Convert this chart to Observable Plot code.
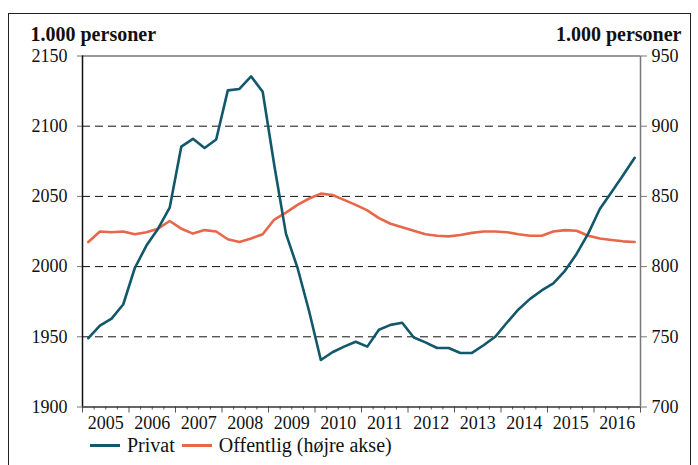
<!DOCTYPE html>
<html><head><meta charset="utf-8">
<script src="https://cdn.jsdelivr.net/npm/d3@7"></script>
<script src="https://cdn.jsdelivr.net/npm/@observablehq/plot@0.6"></script>
<style>
body{margin:0;background:#fff;font-family:"Liberation Serif","DejaVu Serif",serif;}
#wrap{position:relative;width:698px;height:465px;overflow:hidden;background:#fff}
#frame{position:absolute;left:8px;top:13px;width:683px;height:480px;border:1.5px solid #222;box-sizing:border-box}
#chart{position:absolute;left:0;top:0}
#legend{position:absolute;left:90px;top:434px;font-size:20px;display:flex;align-items:center;color:#111;white-space:nowrap;font-family:"Liberation Serif",serif}
.sw{display:inline-block;width:30px;height:3px;margin-right:7px}
.item{display:flex;align-items:center;margin-right:7px}
</style></head>
<body><div id="wrap"><div id="frame"></div><div id="chart"></div><div id="legend"></div></div>
<script>
const years = [2005,2006,2007,2008,2009,2010,2011,2012,2013,2014,2015,2016];
const quartersPerYear = 4;
const privat = [
1949, 1958, 1963, 1973, 1999, 2015, 2027, 2042,
2085.5, 2091, 2084.5, 2090.5, 2125.5, 2126.5, 2135.5, 2124.5,
2072, 2023.5, 1999, 1968, 1933.5, 1939, 1943, 1946.5,
1943, 1955, 1958.5, 1960, 1949.5, 1946, 1942, 1942,
1938.5, 1938.5, 1944, 1950, 1960, 1969.5, 1977, 1983,
1988, 1997, 2009, 2023.5, 2041, 2053, 2065, 2077.5];
const offentlig = [
817.5, 825, 824.5, 825, 823, 824.5, 827, 832.5,
827, 823.5, 826, 825, 819.5, 817.5, 820, 823,
833.5, 838.5, 844, 848.5, 852, 851, 847.5, 844,
840, 834.5, 830.5, 828, 825.5, 823, 822, 821.5,
822.5, 824, 825, 825, 824.5, 823, 822, 822,
825, 826, 825.5, 822, 820, 819, 818, 817.5];
const seriesNames = ["Privat", "Offentlig (højre akse)"];
const seriesColors = ["#12586b", "#e8674a"];
const leftTicks = [1900, 1950, 2000, 2050, 2100, 2150];
const rightTicks = [700, 750, 800, 850, 900, 950];
const unitLabel = "1.000 personer";

const offset = leftTicks[0] - rightTicks[0];
const x0 = years[0], x1 = years[years.length - 1] + 1;
const rows = privat.map((v, i) => ({
  t: x0 + (i + 0.5) / quartersPerYear,
  privat: v,
  offentlig: offentlig[i]
}));
const boundaries = [...years, x1];
const minor = [];
years.forEach(y => { for (let q = 1; q < quartersPerYear; q++) minor.push(y + q / quartersPerYear); });
const mids = years.map(y => y + 0.5);
const font = "'Liberation Serif', serif";

const chart = Plot.plot({
  width: 698,
  height: 440,
  marginLeft: 82,
  marginRight: 58,
  marginTop: 55.5,
  marginBottom: 33.5,
  style: {fontFamily: font, fontSize: "18px", color: "#111", background: "transparent"},
  x: {domain: [x0, x1], axis: null},
  y: {domain: [leftTicks[0], leftTicks[leftTicks.length - 1]], axis: null},
  marks: [
    Plot.ruleY(leftTicks.slice(1, -1), {stroke: "#111", strokeDasharray: "8,5", strokeWidth: 1}),
    Plot.ruleY([leftTicks[leftTicks.length - 1]], {stroke: "#777", strokeWidth: 1.5}),
    Plot.ruleX([x1], {stroke: "#777", strokeWidth: 1.5}),
    Plot.axisY(leftTicks, {anchor: "left", tickSize: 5, tickPadding: 10, stroke: "#777", fill: "#111", tickFormat: d => String(d), fontFamily: font, label: null}),
    Plot.axisY(rightTicks.map(v => v + offset), {anchor: "right", tickSize: 6, tickPadding: 5, stroke: "#777", fill: "#111", tickFormat: d => String(d - offset), fontFamily: font, label: null}),
    Plot.axisX(boundaries, {tickSize: 6, tickFormat: () => "", stroke: "#555", label: null}),
    Plot.axisX(minor, {tickSize: 3, tickFormat: () => "", stroke: "#555", label: null}),
    Plot.axisX(mids, {tickSize: 0, tickPadding: 9, tickFormat: d => String(Math.floor(d)), fill: "#111", fontFamily: font, label: null}),
    Plot.ruleX([x0], {stroke: "#111", strokeWidth: 1.5}),
    Plot.ruleY([leftTicks[0]], {stroke: "#333", strokeWidth: 1.5}),
    Plot.line(rows, {x: "t", y: d => d.offentlig + offset, stroke: seriesColors[1], strokeWidth: 2.6}),
    Plot.line(rows, {x: "t", y: "privat", stroke: seriesColors[0], strokeWidth: 2.6}),
    Plot.text([unitLabel], {frameAnchor: "top-left", textAnchor: "start", lineAnchor: "bottom", dx: -52, dy: -15, fontWeight: "bold", fontSize: 20, fill: "#111", fontFamily: font}),
    Plot.text([unitLabel], {frameAnchor: "top-right", textAnchor: "end", lineAnchor: "bottom", dx: 41, dy: -15, fontWeight: "bold", fontSize: 20, fill: "#111", fontFamily: font})
  ]
});
document.getElementById("chart").appendChild(chart);

const legend = document.getElementById("legend");
seriesNames.forEach((name, i) => {
  const item = document.createElement("span");
  item.className = "item";
  const sw = document.createElement("span");
  sw.className = "sw";
  sw.style.background = seriesColors[i];
  item.appendChild(sw);
  item.appendChild(document.createTextNode(name));
  legend.appendChild(item);
});
</script>
</body></html>
